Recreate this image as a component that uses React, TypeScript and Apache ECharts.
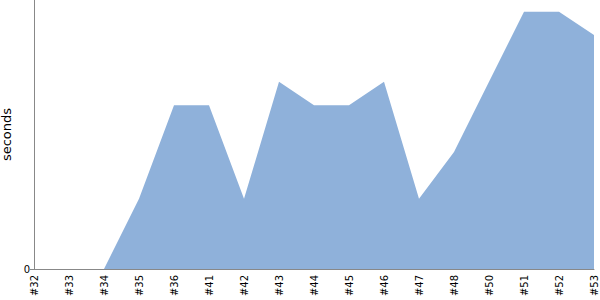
import React, { useEffect, useRef } from "react";
import * as echarts from "echarts";

const categories = ["#32", "#33", "#34", "#35", "#36", "#41", "#42", "#43", "#44", "#45", "#46", "#47", "#48", "#50", "#51", "#52", "#53"];
const seconds = [0, 0, 0, 3, 7, 7, 3, 8, 7, 7, 8, 3, 5, 8, 11, 11, 10];
const yMax = 11.5;
const yTicks = [0];

export default function App() {
  const ref = useRef<HTMLDivElement>(null);
  useEffect(() => {
    const chart = echarts.init(ref.current!, null, { renderer: "svg" });
    chart.setOption({
      animation: false,
      grid: { left: 34, right: 6, top: 0, bottom: 31, containLabel: false, outerBoundsMode: "none" },
      xAxis: {
        type: "category",
        data: categories,
        boundaryGap: false,
        axisLine: { lineStyle: { color: "#888888", width: 1 } },
        axisTick: { show: false },
        axisLabel: { rotate: 90, color: "#000", fontSize: 10, fontFamily: "DejaVu Sans", interval: 0, margin: 6 },
        splitLine: { show: false },
      },
      yAxis: {
        type: "value",
        min: 0,
        max: yMax,
        interval: yMax,
        name: "seconds",
        nameLocation: "middle",
        nameGap: 15,
        nameTextStyle: { color: "#000", fontSize: 13, fontFamily: "DejaVu Sans" },
        axisLine: { show: true, lineStyle: { color: "#888888", width: 1 } },
        axisTick: { show: true, length: 4, customValues: yTicks, lineStyle: { color: "#888888" } },
        axisLabel: {
          color: "#000",
          fontSize: 10,
          fontFamily: "DejaVu Sans",
          margin: 4,
          customValues: yTicks,
        },
        splitLine: { show: false },
      },
      series: [
        {
          type: "line",
          data: seconds,
          symbol: "none",
          lineStyle: { width: 0, color: "#8fb1da" },
          areaStyle: { color: "#8fb1da", opacity: 1 },
        },
      ],
    });
    return () => chart.dispose();
  }, []);
  return <div ref={ref} style={{ width: 600, height: 300, position: "absolute", left: 0, top: 0 }} />;
}
